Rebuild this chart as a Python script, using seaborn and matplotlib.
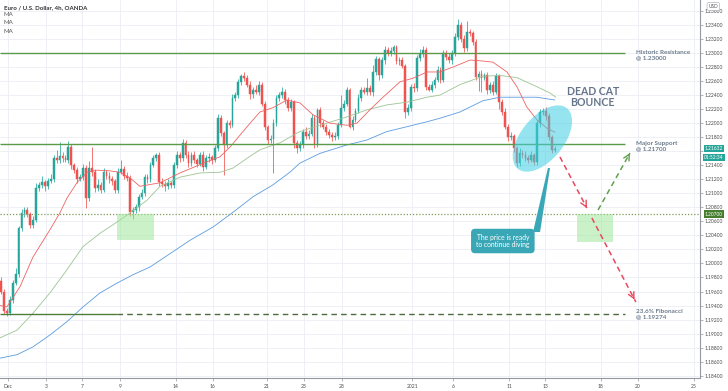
import numpy as np
import pandas as pd
import matplotlib
matplotlib.use("Agg")
import matplotlib.pyplot as plt
import matplotlib.transforms as mtransforms
from matplotlib.patches import Ellipse, Rectangle, Polygon
from matplotlib.ticker import MultipleLocator, FuncFormatter
import seaborn as sns

# 4h candles, EUR/USD, Nov 30 2020 -> Jan 13 2021 (bar index = position on the chart)
first_open = 1.1975
closes = [
    1.1960, 1.1932, 1.1930, 1.1948, 1.1972, 1.1985, 1.2050, 1.2072, 1.2076, 1.2070,
    1.2055, 1.2062, 1.2108, 1.2112, 1.2116, 1.2110, 1.2118, 1.2121, 1.2150, 1.2147,
    1.2153, 1.2150, 1.2147, 1.2166, 1.2140, 1.2133, 1.2120, 1.2123, 1.2136, 1.2093,
    1.2136, 1.2130, 1.2108, 1.2112, 1.2105, 1.2130, 1.2125, 1.2120, 1.2118, 1.2105,
    1.2130, 1.2135, 1.2125, 1.2122, 1.2073, 1.2076, 1.2080, 1.2095, 1.2100, 1.2123,
    1.2120, 1.2140, 1.2150, 1.2155, 1.2116, 1.2113, 1.2110, 1.2115, 1.2112, 1.2140,
    1.2155, 1.2150, 1.2172, 1.2155, 1.2143, 1.2155, 1.2148, 1.2142, 1.2155, 1.2138,
    1.2150, 1.2152, 1.2148, 1.2164, 1.2207, 1.2186, 1.2169, 1.2200, 1.2198, 1.2236,
    1.2240, 1.2259, 1.2267, 1.2265, 1.2255, 1.2241, 1.2248, 1.2245, 1.2255, 1.2228,
    1.2195, 1.2176, 1.2178, 1.2200, 1.2236, 1.2240, 1.2245, 1.2233, 1.2222, 1.2230,
    1.2172, 1.2165, 1.2170, 1.2188, 1.2182, 1.2185, 1.2207, 1.2170, 1.2219, 1.2200,
    1.2195, 1.2188, 1.2183, 1.2180, 1.2182, 1.2198, 1.2222, 1.2228, 1.2247, 1.2195,
    1.2205, 1.2218, 1.2236, 1.2247, 1.2245, 1.2250, 1.2244, 1.2273, 1.2291, 1.2268,
    1.2290, 1.2304, 1.2300, 1.2303, 1.2308, 1.2288, 1.2290, 1.2282, 1.2216, 1.2222,
    1.2252, 1.2250, 1.2293, 1.2298, 1.2305, 1.2252, 1.2248, 1.2255, 1.2262, 1.2276,
    1.2262, 1.2300, 1.2295, 1.2290, 1.2300, 1.2323, 1.2340, 1.2320, 1.2307, 1.2330,
    1.2328, 1.2316, 1.2266, 1.2270, 1.2265, 1.2268, 1.2247, 1.2255, 1.2245, 1.2267,
    1.2230, 1.2216, 1.2195, 1.2180, 1.2182, 1.2164, 1.2143, 1.2158, 1.2155, 1.2150,
    1.2148, 1.2155, 1.2145, 1.2200, 1.2216, 1.2218, 1.2210, 1.2180, 1.2162, 1.2163,
]
# wick lengths in pips above / below the body
upper_wick = [
    5, 3, 4, 6, 5, 8, 4, 6, 5, 4,
    3, 5, 6, 4, 8, 3, 4, 6, 5, 12,
    20, 6, 4, 8, 4, 3, 5, 4, 6, 5,
    10, 30, 5, 8, 4, 6, 3, 5, 4, 3,
    6, 12, 4, 5, 4, 4, 5, 4, 6, 4,
    4, 5, 4, 3, 4, 6, 4, 5, 3, 4,
    6, 4, 5, 4, 5, 4, 6, 3, 4, 5,
    4, 6, 3, 5, 6, 4, 3, 5, 4, 6,
    5, 4, 3, 6, 4, 5, 4, 6, 5, 4,
    4, 3, 5, 6, 4, 5, 6, 4, 5, 4,
    3, 4, 5, 4, 6, 5, 6, 4, 3, 4,
    5, 4, 3, 4, 5, 4, 18, 5, 4, 3,
    5, 4, 6, 5, 4, 14, 5, 10, 5, 4,
    4, 6, 4, 5, 3, 4, 5, 4, 3, 5,
    4, 5, 4, 8, 5, 3, 4, 5, 4, 5,
    4, 5, 4, 5, 4, 5, 8, 4, 5, 15,
    4, 3, 4, 5, 6, 4, 5, 4, 5, 4,
    3, 4, 5, 4, 5, 3, 4, 6, 4, 5,
    4, 5, 3, 4, 4, 4, 5, 4, 3, 4,
]
lower_wick = [
    3, 4, 5, 3, 4, 3, 5, 4, 6, 4,
    5, 4, 3, 5, 4, 6, 4, 3, 5, 4,
    4, 6, 3, 4, 5, 4, 5, 3, 4, 14,
    4, 5, 6, 4, 5, 3, 4, 5, 6, 4,
    4, 3, 5, 4, 6, 10, 4, 5, 3, 4,
    5, 4, 3, 4, 5, 4, 6, 4, 5, 4,
    4, 5, 4, 5, 6, 4, 5, 4, 3, 6,
    4, 5, 6, 4, 3, 5, 43, 4, 5, 4,
    5, 4, 4, 5, 4, 6, 5, 4, 5, 4,
    5, 6, 4, 49, 4, 5, 4, 5, 4, 5,
    7, 7, 4, 5, 4, 5, 4, 6, 4, 5,
    4, 5, 4, 5, 4, 5, 4, 5, 4, 2,
    5, 4, 4, 5, 4, 5, 4, 5, 4, 6,
    4, 5, 4, 4, 5, 4, 5, 4, 8, 5,
    4, 5, 4, 5, 4, 5, 2, 4, 5, 4,
    5, 4, 5, 4, 5, 4, 5, 4, 5, 4,
    4, 5, 4, 20, 20, 4, 5, 4, 5, 4,
    10, 5, 4, 5, 4, 5, 6, 4, 5, 4,
    5, 4, 5, 4, 5, 4, 5, 4, 4, 3,
]

# moving averages (bar index, price)
ma_red_idx = [-0.3, 2.0, 6.5, 10.9, 16.7, 20.1, 22.5, 25.9, 29.4, 32.8, 37.2, 40.6, 44.0,
              47.4, 54.3, 61.1, 70.3, 74.7, 78.2, 84.0, 88.4, 92.8, 97.6, 102.0, 106.5,
              112.3, 118.1, 121.5, 125.9, 130.4, 136.2, 140.6, 145.4, 149.8, 154.3, 160.1,
              163.5, 167.9, 172.7, 176.1, 179.5, 182.9, 186.3, 189.1]
ma_red_val = [1.1940, 1.1938, 1.1967, 1.2009, 1.2048, 1.2072, 1.2093, 1.2115, 1.2130, 1.2133,
              1.2132, 1.2130, 1.2122, 1.2110, 1.2115, 1.2129, 1.2145, 1.2152, 1.2166, 1.2195,
              1.2216, 1.2222, 1.2233, 1.2229, 1.2212, 1.2200, 1.2197, 1.2200, 1.2219, 1.2237,
              1.2259, 1.2264, 1.2273, 1.2273, 1.2280, 1.2290, 1.2289, 1.2287, 1.2273, 1.2252,
              1.2223, 1.2205, 1.2193, 1.2187]
ma_green_idx = [-0.3, 5.5, 10.9, 16.7, 22.5, 28.0, 33.8, 39.6, 44.0, 49.8, 54.3, 61.1, 67.9,
                74.7, 79.2, 84.0, 88.4, 95.2, 102.0, 108.9, 118.1, 124.9, 131.7, 138.6,
                145.4, 149.8, 156.7, 164.5, 170.3, 176.1, 182.9, 187.4, 189.4]
ma_green_val = [1.1894, 1.1905, 1.1929, 1.1958, 1.1991, 1.2024, 1.2043, 1.2059, 1.2072, 1.2090,
                1.2110, 1.2123, 1.2129, 1.2130, 1.2136, 1.2150, 1.2162, 1.2172, 1.2188, 1.2197,
                1.2209, 1.2219, 1.2226, 1.2230, 1.2237, 1.2240, 1.2255, 1.2267, 1.2268, 1.2265,
                1.2252, 1.2243, 1.2237]
ma_blue_idx = [-0.3, 5.5, 10.9, 16.7, 22.5, 28.0, 33.8, 39.6, 45.1, 50.9, 64.5, 72.4, 79.2,
               86.0, 92.8, 98.6, 102.0, 108.9, 118.1, 124.9, 131.7, 138.6, 145.4, 149.8,
               156.7, 164.5, 170.3, 177.1, 182.9, 189.1]
ma_blue_val = [1.1865, 1.1870, 1.1881, 1.1898, 1.1917, 1.1938, 1.1958, 1.1972, 1.1984, 1.1995,
               1.2033, 1.2052, 1.2073, 1.2095, 1.2112, 1.2130, 1.2143, 1.2157, 1.2169, 1.2176,
               1.2188, 1.2195, 1.2202, 1.2207, 1.2216, 1.2232, 1.2237, 1.2237, 1.2237, 1.2233]

date_tick_pos = [2.4, 15.4, 27.8, 40.6, 59.6, 72.2, 90.8, 103.4, 116.4, 140.3,
                 154.3, 173.4, 185.8, 204.8, 217.4, 236.5]
date_tick_labels = ["Dec", "3", "7", "9", "14", "16", "21", "23", "28", "2021",
                    "6", "11", "13", "18", "20", "25"]

resistance = 1.23000
support = 1.21700
pivot = 1.20700
fib_236 = 1.19274
last_price = 1.21632

opens = [first_open] + closes[:-1]
candles = pd.DataFrame({"open": opens, "close": closes,
                        "up": upper_wick, "dn": lower_wick})
candles["idx"] = np.arange(len(candles))
candles["high"] = candles[["open", "close"]].max(axis=1) + candles["up"] / 10000
candles["low"] = candles[["open", "close"]].min(axis=1) - candles["dn"] / 10000
candles["color"] = np.where(candles["close"] >= candles["open"], "#26a69a", "#ef5350")

sns.set_theme(style="white")
plt.rcParams["font.family"] = ["Lato", "DejaVu Sans"]

W, H = 728, 391
fig = plt.figure(figsize=(W / 100, H / 100), dpi=100)
ax = fig.add_axes([0, 13 / H, 700 / W, 378 / H])
ax.set_xlim(-0.34, 238.6)
ax.set_ylim(1.18367, 1.23756)

# grid
ax.yaxis.set_major_locator(MultipleLocator(0.002))
ax.set_xticks(date_tick_pos, date_tick_labels)
ax.grid(True, color="#ebeef4", linewidth=0.6)
ax.set_axisbelow(True)

# candles
ax.vlines(candles["idx"], candles["low"], candles["high"], colors=candles["color"],
          linewidth=0.55, zorder=2)
ax.bar(candles["idx"], (candles["close"] - candles["open"]).abs(),
       bottom=candles[["open", "close"]].min(axis=1), width=0.6,
       color=candles["color"], edgecolor=candles["color"], linewidth=0.35, zorder=2)

# moving averages
sns.lineplot(x=ma_blue_idx, y=ma_blue_val, ax=ax, color="#5b9be0", linewidth=0.6, zorder=2)
sns.lineplot(x=ma_green_idx, y=ma_green_val, ax=ax, color="#9cc492", linewidth=0.6, zorder=2)
sns.lineplot(x=ma_red_idx, y=ma_red_val, ax=ax, color="#f06262", linewidth=0.6, zorder=2)

# levels
lvl_end = 213
ax.hlines([resistance, support], -0.34, lvl_end, colors="#5b9a48", linewidth=1.0, zorder=3)
ax.hlines(fib_236, -0.34, 39.6, colors="#4e7d3a", linewidth=1.0, zorder=3)
ax.hlines(fib_236, 39.6, lvl_end, colors="#4e6a3e", linewidth=1.0,
          linestyles=(0, (4, 3)), zorder=3)
ax.axhline(pivot, color="#7c9c55", linewidth=0.9, linestyle=(0, (1, 1.5)), zorder=3)

# support zones
ax.add_patch(Rectangle((39.6, 1.2033), 12.6, pivot - 1.2033, facecolor="#9fe69a",
                       alpha=0.55, edgecolor="none", zorder=3))
ax.add_patch(Rectangle((196.6, 1.2031), 12.3, pivot - 1.2031, facecolor="#9fe69a",
                       alpha=0.55, edgecolor="none", zorder=3))

lbl_color = "#6b7b8c"
ax.text(216.7, resistance + 0.00043, "Historic Resistance\n@ 1.23000", fontsize=4.6,
        color=lbl_color, va="top", ha="left", linespacing=1.05, fontweight="bold")
ax.text(216.7, support + 0.00046, "Major Support\n@ 1.21700", fontsize=4.6,
        color=lbl_color, va="top", ha="left", linespacing=1.05, fontweight="bold")
ax.text(216.7, fib_236 + 0.00077, "23.6% Fibonacci\n@ 1.19274", fontsize=4.6,
        color=lbl_color, va="top", ha="left", linespacing=1.05, fontweight="bold")
ax.text(202, 1.22366, "DEAD CAT\nBOUNCE", fontsize=7.6, color="#66768a",
        fontweight="bold", ha="center", va="center", linespacing=1.0, zorder=5)

# projected paths
def dashed_arrow(x0, y0, x1, y1, color):
    ax.plot([x0, x1], [y0, y1], color=color, linewidth=1.1, linestyle=(0, (3.5, 2.5)),
            zorder=4)
    fx = x0 + (x1 - x0) * 0.92
    fy = y0 + (y1 - y0) * 0.92
    ax.annotate("", xy=(x1, y1), xytext=(fx, fy),
                arrowprops=dict(arrowstyle="->,head_length=0.35,head_width=0.18",
                                color=color, lw=1.0), zorder=4)

dashed_arrow(190.8, 1.21518, 200.0, 1.20790, "#e8485e")
dashed_arrow(201.7, 1.20648, 216.7, 1.19450, "#e8485e")
dashed_arrow(203.8, 1.20762, 214.7, 1.21574, "#62a04f")

# callout
ax.add_patch(Polygon([(181.6, 1.20448), (184.0, 1.20448), (187.4, 1.21361), (186.7, 1.21361)],
                     closed=True, facecolor="#3aa7b6", edgecolor="none", zorder=5))
ax.text(171.3, 1.20320, "The price is ready\nto continue diving", fontsize=4.9,
        color="white", ha="center", va="center", linespacing=1.05, zorder=6,
        bbox=dict(boxstyle="round,pad=0.75,rounding_size=0.6", facecolor="#3aa7b6",
                  edgecolor="none"))

# axes styling
for side in ["top", "left"]:
    ax.spines[side].set_visible(False)
for side in ["right", "bottom"]:
    ax.spines[side].set_color("#9598a1")
    ax.spines[side].set_linewidth(0.8)
ax.yaxis.tick_right()


def price_fmt(v, pos):
    # the 1.21600 label sits under the live price tag, as on the original
    if abs(v - 1.216) < 1e-6:
        return ""
    return f"{v:.5f}"


ax.yaxis.set_major_formatter(FuncFormatter(price_fmt))
ax.tick_params(axis="y", labelsize=3.6, colors="#9598a1", labelcolor="#4a4a4a",
               length=2, width=0.5, pad=1.5, right=True, left=False)
ax.tick_params(axis="x", labelsize=3.6, colors="#9598a1", labelcolor="#4a4a4a",
               length=2, width=0.5, pad=2, bottom=True)
ax.set_xlabel("")
ax.set_ylabel("")

# right-axis price labels
ytr = ax.get_yaxis_transform()
ax.text(1.02, last_price + 0.00004, "1.21632", transform=ytr, fontsize=3.5, color="white",
        ha="center", va="center", clip_on=False, zorder=7,
        bbox=dict(boxstyle="square,pad=0.22", facecolor="#26a69a", edgecolor="none"))
ax.text(1.02, 1.21512, "01:52:34", transform=ytr, fontsize=3.5, color="white",
        ha="center", va="center", clip_on=False, zorder=7,
        bbox=dict(boxstyle="square,pad=0.22", facecolor="#26a69a", edgecolor="none"))
ax.text(1.02, pivot, "1.20700", transform=ytr, fontsize=3.5, color="white",
        ha="center", va="center", clip_on=False, zorder=7,
        bbox=dict(boxstyle="square,pad=0.3", facecolor="#467d2e", edgecolor="none"))
ax.text(1.019, 1.23663, "USD", transform=ytr, fontsize=3.4, color="#555555",
        ha="center", va="center", clip_on=False, zorder=7,
        bbox=dict(boxstyle="round,pad=0.3", facecolor="white", edgecolor="#b2b5be",
                  linewidth=0.5))

# header
fig.text(4 / W, 1 - 7.3 / H, "Euro / U.S. Dollar, 4h, OANDA", fontsize=4.4,
         color="#333333", fontweight="bold", va="center", ha="left")
for yy in [15, 23, 31.5]:
    fig.text(4 / W, 1 - yy / H, "MA", fontsize=4.4, color="#555555", va="center", ha="left")

# highlighted bounce (drawn in pixel space so the tilt is kept)
cx, cy = ax.transData.transform((184.8, 1.21781))
ell = Ellipse((cx, cy), 78, 43, angle=51, transform=mtransforms.IdentityTransform(),
              facecolor="#40cfe3", alpha=0.55, edgecolor="none", zorder=4)
ax.add_patch(ell)

fig.savefig("out.png", dpi=100)
